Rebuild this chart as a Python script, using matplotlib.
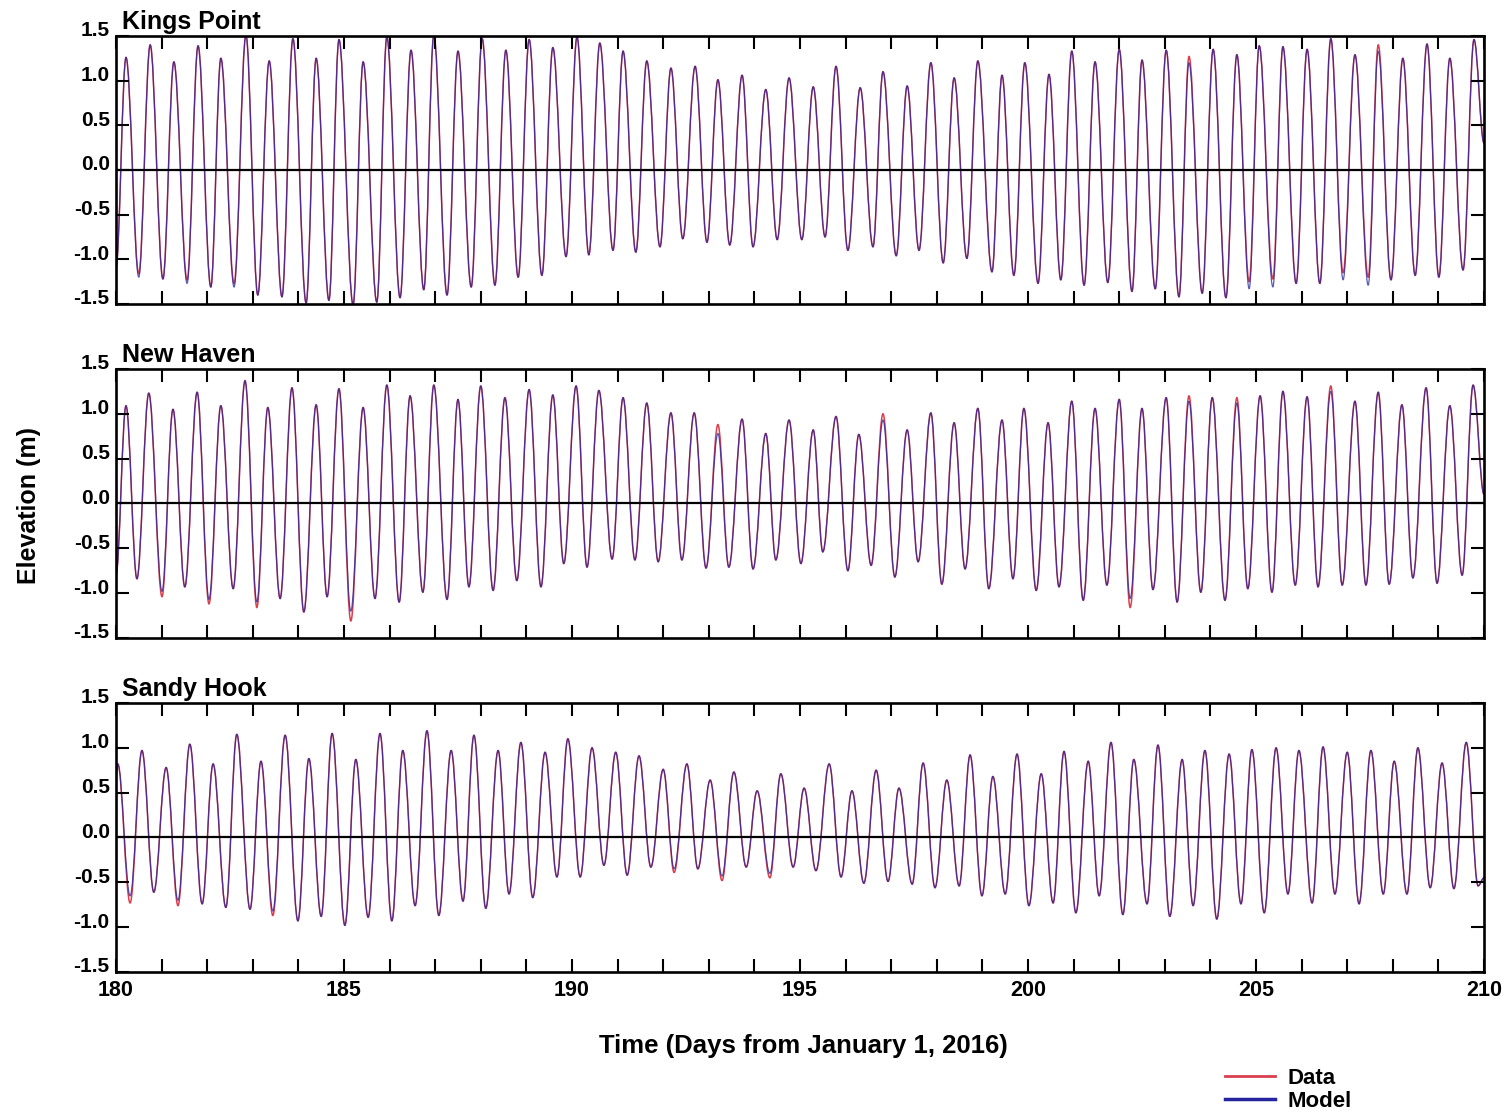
import matplotlib.pyplot as plt
from matplotlib.lines import Line2D
from matplotlib.path import Path
from matplotlib.patches import PathPatch
from matplotlib.transforms import ScaledTranslation
import numpy as np

plt.rcParams['font.family'] = ['Liberation Sans', 'DejaVu Sans']

stations = ["Kings Point", "New Haven", "Sandy Hook"]

# high / low water times (days from Jan 1, 2016) and elevations (m)
kp_t = [180.00, 180.22, 180.50, 180.75, 181.03, 181.27, 181.56, 181.80, 182.08, 182.30,
        182.59, 182.85, 183.11, 183.36, 183.64, 183.88, 184.17, 184.39, 184.67, 184.89,
        185.20, 185.42, 185.72, 185.94, 186.23, 186.47, 186.75, 186.97, 187.26, 187.50,
        187.79, 188.03, 188.31, 188.55, 188.82, 189.06, 189.34, 189.58, 189.87, 190.11,
        190.37, 190.61, 190.90, 191.12, 191.40, 191.64, 191.93, 192.17, 192.43, 192.70,
        192.96, 193.20, 193.46, 193.73, 193.97, 194.25, 194.50, 194.76, 195.04, 195.29,
        195.55, 195.79, 196.05, 196.32, 196.60, 196.82, 197.11, 197.35, 197.61, 197.87,
        198.14, 198.38, 198.66, 198.90, 199.21, 199.43, 199.69, 199.93, 200.22, 200.46,
        200.72, 200.96, 201.23, 201.47, 201.75, 202.00, 202.28, 202.50, 202.79, 203.03,
        203.31, 203.53, 203.82, 204.06, 204.34, 204.58, 204.85, 205.07, 205.37, 205.59,
        205.88, 206.12, 206.40, 206.64, 206.91, 207.17, 207.46, 207.68, 207.96, 208.22,
        208.49, 208.75, 209.01, 209.25, 209.54, 209.78, 210.00]
kp_data = [-1.10, 1.26, -1.16, 1.40, -1.22, 1.21, -1.23, 1.39, -1.31, 1.25,
           -1.27, 1.51, -1.40, 1.22, -1.42, 1.47, -1.49, 1.25, -1.46, 1.46,
           -1.51, 1.21, -1.48, 1.49, -1.43, 1.34, -1.34, 1.51, -1.40, 1.33,
           -1.31, 1.47, -1.29, 1.34, -1.20, 1.46, -1.18, 1.37, -0.97, 1.49,
           -0.95, 1.42, -0.90, 1.33, -0.92, 1.22, -0.86, 1.14, -0.77, 1.16,
           -0.81, 1.01, -0.84, 1.06, -0.86, 0.90, -0.78, 1.03, -0.78, 0.93,
           -0.75, 1.16, -0.90, 0.92, -0.86, 1.10, -0.96, 0.94, -0.90, 1.20,
           -1.04, 1.03, -0.99, 1.22, -1.14, 1.06, -1.18, 1.20, -1.27, 1.07,
           -1.23, 1.33, -1.29, 1.21, -1.26, 1.35, -1.36, 1.23, -1.33, 1.34,
           -1.42, 1.27, -1.38, 1.35, -1.43, 1.29, -1.25, 1.39, -1.22, 1.38,
           -1.27, 1.35, -1.27, 1.47, -1.15, 1.29, -1.20, 1.40, -1.23, 1.25,
           -1.18, 1.41, -1.20, 1.25, -1.12, 1.46, 0.30]
kp_model_diff = {2: -1.20, 6: -1.27, 10: -1.31, 91: 1.20, 96: -1.33, 98: -1.31,
                 104: -1.23, 106: -1.29, 107: 1.33}

nh_t = [180.00, 180.22, 180.46, 180.72, 181.01, 181.25, 181.51, 181.78, 182.04, 182.30,
        182.57, 182.83, 183.09, 183.33, 183.60, 183.86, 184.12, 184.39, 184.63, 184.89,
        185.15, 185.42, 185.68, 185.94, 186.21, 186.45, 186.73, 186.97, 187.26, 187.50,
        187.74, 188.00, 188.27, 188.53, 188.79, 189.06, 189.32, 189.58, 189.82, 190.09,
        190.33, 190.59, 190.88, 191.12, 191.38, 191.64, 191.89, 192.17, 192.41, 192.68,
        192.94, 193.20, 193.44, 193.73, 193.97, 194.25, 194.47, 194.76, 195.02, 195.29,
        195.50, 195.79, 196.05, 196.29, 196.56, 196.82, 197.08, 197.35, 197.59, 197.87,
        198.11, 198.38, 198.62, 198.90, 199.14, 199.43, 199.67, 199.91, 200.18, 200.44,
        200.68, 200.96, 201.21, 201.47, 201.73, 202.00, 202.24, 202.50, 202.74, 203.03,
        203.27, 203.53, 203.79, 204.04, 204.32, 204.58, 204.82, 205.09, 205.35, 205.59,
        205.86, 206.12, 206.36, 206.64, 206.89, 207.17, 207.41, 207.68, 207.92, 208.20,
        208.44, 208.73, 208.97, 209.25, 209.52, 209.76, 210.00]
nh_data = [-0.80, 1.09, -0.84, 1.23, -1.04, 1.05, -0.93, 1.24, -1.12, 1.09,
           -0.95, 1.37, -1.16, 1.07, -1.06, 1.29, -1.21, 1.10, -1.04, 1.28,
           -1.31, 1.07, -1.06, 1.32, -1.10, 1.20, -0.99, 1.32, -1.07, 1.16,
           -0.93, 1.31, -0.97, 1.18, -0.86, 1.27, -0.93, 1.21, -0.67, 1.31,
           -0.71, 1.26, -0.62, 1.18, -0.63, 1.12, -0.65, 1.01, -0.63, 1.01,
           -0.72, 0.88, -0.71, 0.94, -0.73, 0.78, -0.63, 0.93, -0.67, 0.82,
           -0.54, 0.97, -0.75, 0.77, -0.69, 1.00, -0.82, 0.82, -0.65, 1.01,
           -0.90, 0.90, -0.73, 1.06, -0.95, 0.93, -0.84, 1.06, -0.97, 0.90,
           -0.93, 1.14, -1.08, 1.06, -0.91, 1.16, -1.16, 1.06, -0.96, 1.18,
           -1.10, 1.20, -0.99, 1.18, -1.08, 1.18, -0.95, 1.20, -0.99, 1.25,
           -0.91, 1.19, -0.93, 1.31, -0.91, 1.14, -0.91, 1.24, -0.90, 1.10,
           -0.83, 1.29, -0.89, 1.09, -0.80, 1.32, 0.10]
nh_model_diff = {4: -0.98, 8: -1.07, 12: -1.10, 20: -1.20, 51: 0.78, 65: 0.93,
                 86: -1.06, 91: 1.14, 95: 1.12, 103: 1.25}

sh_t = [180.00, 180.04, 180.31, 180.57, 180.83, 181.10, 181.36, 181.62, 181.89, 182.13,
        182.41, 182.65, 182.94, 183.18, 183.44, 183.71, 183.99, 184.23, 184.50, 184.74,
        185.02, 185.26, 185.53, 185.79, 186.05, 186.29, 186.56, 186.82, 187.08, 187.35,
        187.61, 187.85, 188.11, 188.38, 188.62, 188.88, 189.14, 189.41, 189.67, 189.91,
        190.18, 190.44, 190.70, 190.96, 191.21, 191.47, 191.73, 192.00, 192.24, 192.52,
        192.76, 193.03, 193.29, 193.55, 193.82, 194.06, 194.34, 194.58, 194.85, 195.09,
        195.35, 195.64, 195.90, 196.14, 196.40, 196.67, 196.93, 197.17, 197.46, 197.70,
        197.96, 198.22, 198.49, 198.73, 198.99, 199.23, 199.50, 199.76, 200.02, 200.29,
        200.55, 200.79, 201.05, 201.32, 201.56, 201.82, 202.08, 202.32, 202.61, 202.85,
        203.11, 203.38, 203.62, 203.88, 204.14, 204.41, 204.67, 204.91, 205.18, 205.44,
        205.70, 205.94, 206.23, 206.47, 206.73, 207.00, 207.26, 207.52, 207.79, 208.03,
        208.31, 208.55, 208.82, 209.08, 209.34, 209.61, 209.87, 210.00]
sh_data = [0.70, 0.82, -0.73, 0.97, -0.61, 0.78, -0.76, 1.04, -0.74, 0.82,
           -0.78, 1.15, -0.80, 0.85, -0.87, 1.14, -0.93, 0.88, -0.88, 1.16,
           -0.98, 0.87, -0.89, 1.16, -0.93, 0.97, -0.76, 1.19, -0.87, 0.97,
           -0.71, 1.14, -0.79, 0.97, -0.63, 1.06, -0.67, 0.95, -0.44, 1.10,
           -0.44, 1.00, -0.31, 0.95, -0.42, 0.91, -0.33, 0.76, -0.39, 0.82,
           -0.35, 0.64, -0.48, 0.73, -0.33, 0.52, -0.45, 0.71, -0.33, 0.55,
           -0.37, 0.82, -0.44, 0.52, -0.51, 0.75, -0.49, 0.55, -0.52, 0.83,
           -0.56, 0.64, -0.54, 0.92, -0.65, 0.68, -0.63, 0.93, -0.76, 0.71,
           -0.73, 0.96, -0.84, 0.85, -0.65, 1.06, -0.86, 0.87, -0.74, 1.03,
           -0.88, 0.87, -0.76, 0.97, -0.91, 0.93, -0.74, 0.98, -0.84, 1.00,
           -0.63, 0.97, -0.73, 1.01, -0.63, 0.95, -0.74, 0.97, -0.63, 0.85,
           -0.63, 1.00, -0.56, 0.83, -0.57, 1.06, -0.54, -0.45]
sh_model_diff = {2: -0.65, 6: -0.70, 14: -0.82, 48: -0.35, 52: -0.43, 56: -0.40}

series = [(kp_t, kp_data, kp_model_diff),
          (nh_t, nh_data, nh_model_diff),
          (sh_t, sh_data, sh_model_diff)]

data_color = '#d8404e'
model_color = '#24249e'


def model_from(data, diff):
    m = list(data)
    for i, v in diff.items():
        m[i] = v
    return m


def tide_path(t, y, h=0.36):
    # smooth curve between successive high/low waters (flat tangent at each extreme)
    verts = [(t[0], y[0])]
    codes = [Path.MOVETO]
    for i in range(1, len(t)):
        dt = t[i] - t[i - 1]
        verts += [(t[i - 1] + h * dt, y[i - 1]), (t[i] - h * dt, y[i]), (t[i], y[i])]
        codes += [Path.CURVE4] * 3
    return Path(verts, codes)


fig = plt.figure(figsize=(15.10, 11.13), dpi=100)

# axes boxes in figure fractions
boxes = [(0.0768, 0.7269, 0.9060, 0.2408),
         (0.0768, 0.4268, 0.9060, 0.2417),
         (0.0768, 0.1267, 0.9060, 0.2417)]

shift_up = ScaledTranslation(0, 7 / 100, fig.dpi_scale_trans)

for k, (name, (t, data, diff), box) in enumerate(zip(stations, series, boxes)):
    assert len(t) == len(data)
    ax = fig.add_axes(box)
    model = model_from(data, diff)
    ax.add_patch(PathPatch(tide_path(t, data), facecolor='none',
                           edgecolor=data_color, lw=1.1))
    ax.add_patch(PathPatch(tide_path(t, model), facecolor='none',
                           edgecolor=model_color, lw=0.9, alpha=0.75))
    ax.axhline(0, color='k', lw=1.6)

    ax.set_xlim(180, 210)
    ax.set_ylim(-1.5, 1.5)
    ax.set_xticks(np.arange(180, 211, 5))
    ax.set_xticks(np.arange(180, 211, 1), minor=True)
    ax.set_yticks(np.arange(-1.5, 1.51, 0.5))
    ax.set_yticklabels(['-1.5', '-1.0', '-0.5', '0.0', '0.5', '1.0', '1.5'])
    ax.tick_params(which='both', direction='in', top=True, right=True,
                   length=9.5, width=1.5, pad=4.5)
    ax.tick_params(axis='y', labelsize=15)
    ax.tick_params(axis='x', labelsize=15.5, pad=6, labelbottom=(k == 2))
    for lab in ax.get_yticklabels():
        lab.set_fontweight('bold')
        lab.set_transform(lab.get_transform() + shift_up)
    for lab in ax.get_xticklabels():
        lab.set_fontweight('bold')
    for sp in ax.spines.values():
        sp.set_linewidth(1.9)

    ax.text(0.0045, 1.008, name, transform=ax.transAxes, ha='left', va='bottom',
            fontsize=18, fontweight='bold')

fig.text(0.532, 0.060, "Time (Days from January 1, 2016)", ha='center', va='center',
         fontsize=18.5, fontweight='bold')
fig.text(0.019, 0.546, "Elevation (m)", ha='center', va='center', rotation=90,
         fontsize=18, fontweight='bold')

handles = [Line2D([], [], color=data_color, lw=2),
           Line2D([], [], color=model_color, lw=2.5)]
fig.legend(handles, ["Data", "Model"], loc='upper left',
           bbox_to_anchor=(1214 / 1510, 1 - 1057 / 1113), frameon=False,
           prop={'size': 16, 'weight': 'bold'}, handlelength=2.25,
           handletextpad=0.55, labelspacing=0.08, borderpad=0)

fig.savefig("out.png", dpi=100)
